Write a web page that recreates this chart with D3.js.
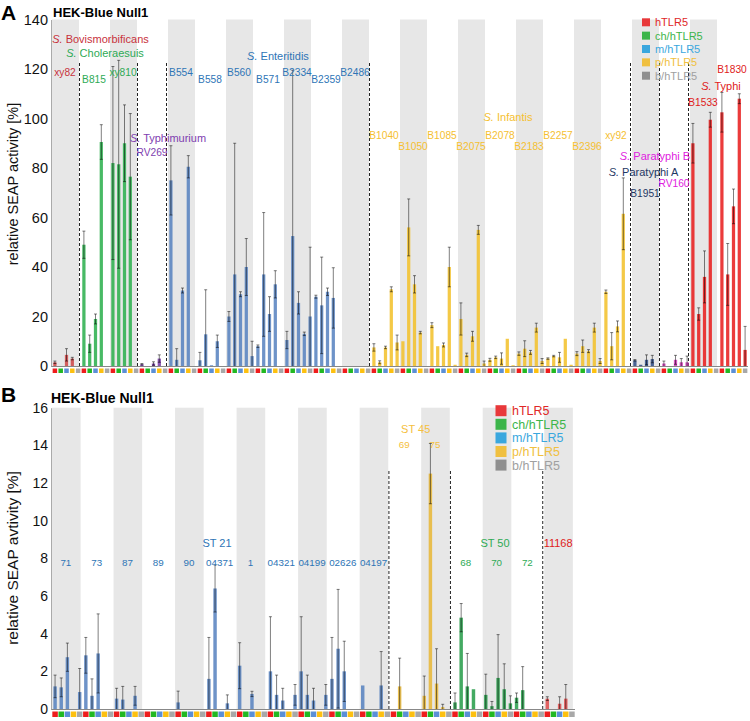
<!DOCTYPE html>
<html><head><meta charset="utf-8">
<script src="https://cdn.jsdelivr.net/npm/d3@7"></script>
<style>body{margin:0;background:#fff;} text{font-family:"Liberation Sans",Arial,sans-serif;}</style>
</head><body><svg id="c" width="750" height="721"></svg>
<script>
// ---------------- DATA ----------------
const receptors = ["hTLR5","ch/hTLR5","m/hTLR5","p/hTLR5","b/hTLR5"];
const ticksA = [0,20,40,60,80,100,120,140];
const ticksB = [0,2,4,6,8,10,12,14,16];

const serovarNamesA = ["Bovismorbificans","Choleraesuis","Typhimurium","Enteritidis","Infantis","Paratyphi A","Paratyphi B","Typhi"];
const serovarSizesA = [1,2,1,7,9,1,1,2];
const strainsA = ["xy82","B815","xy810","RV269","B554","B558","B560","B571","B2334","B2359","B2486",
  "B1040","B1050","B1085","B2075","B2078","B2183","B2257","B2396","xy92","B1951","RV160","B1533","B1830"];
// mean per strain: [hTLR5, ch/hTLR5, m/hTLR5, p/hTLR5, b/hTLR5]
const meanA = [
  [1.5,0,4.5,3,0],[49,9,19,90.5,0],[82,81.5,90,76.5,0],[0.7,0,1,3,0],
  [75,2.5,30.5,80.5,0],[2.3,12.8,0.3,10,0],[20,37,29,40,4],[8,37,21,33,0],
  [10.5,52.5,25.5,13,20],[28,24.5,30,27.5,0],[0,0,0,0,0],
  [7.5,1.5,7.5,31,9.5],[10,56,33,13.5,0],[16.5,8,8.5,40,0.5],[19,4.5,12,55,1],
  [2.5,3.5,3,11,0.3],[5,7,5.5,15.5,2],[3,4,3.5,11,0.5],[5,8,6,15.5,2],[30,8,16,61.5,0],
  [2.3,0.5,2.5,2.8,0],[1,0,2.5,1.5,1.5],[90,21,36,99.5,0],[102.5,37,64.5,108,6.5]
];
const errA = [
  [0.5,0,2.5,0.5,0],[5.5,3.5,2,7,0],[39,42,15.5,25.5,0],[0.3,0,0.7,1.5,0],
  [14,4.5,1,4.5,0],[3.2,18,0,2.5,0],[2,53,1,11.5,6],[0.5,25,7,5.5,0],
  [3.5,67,4.5,0.7,28],[0.6,19.5,1.5,12.2,0],[0,0,0,0,0],
  [1.5,0.6,0.5,1,3],[0,11.5,3.5,0.5,0],[1,0,0.8,8,0],[6.5,0.7,2,1.8,1],
  [0.6,0.5,2.3,0,0],[0.7,3.2,0.8,1.8,1],[0.3,0.3,2,0,0],[0.8,2.5,0.6,1.8,1],[0.7,5.5,2.2,14.5,0],
  [0.3,0,2,1.5,0],[1,0,1.8,1.5,2.5],[8,2.5,10.5,3,0],[8,12.5,7,2,9.5]
];

const groupNamesB = ["ST 21","ST 45","ST 50",""];
const groupSizesB = [11,2,3,1];
const strainsB = ["71","73","87","89","90","04371","1","04321","04199","02626","04197","69","75","68","70","72","11168"];
const meanB = [
  [1.2,1.15,2.75,0,0.9],[2.85,0.7,2.95,0,0],[0.55,0.5,0,0.7,0],[0,0,0,0,0],[0.35,0,0,0,0],
  [1.6,6.4,0,0.3,0],[2.3,0,0.8,0,0],[2.0,0.75,0.45,0,0.75],[2.0,0.75,0.45,0,0.75],[1.6,3.2,2.0,0,0],
  [1.25,0,0,1.25,0],[0,1.2,0,0,0],[0.7,12.5,1.35,0.1,0],[0.35,4.85,1.2,1.05,0],[0.75,0.15,1.65,1.05,0.3],
  [0.6,1.0,0,0,0],[0.55,0,0.28,0.55,0]
];
const errB = [
  [0.6,0.5,0.75,0,1.25],[0.95,0.9,2.1,0,0],[0.55,0.7,0,0.5,0],[0,0,0,0,0],[0.6,0,0,0,0],
  [2.2,1.25,0,0.45,0],[1.22,0,0.14,0,0],[2.9,1.05,0.65,0,0.55],[2.9,1.05,0.65,0,0.55],[2.2,3.15,1.6,0,0],
  [0,0,0,1.8,0],[0,1.5,0,0,0],[1.05,1.6,1.85,0.15,0],[0.5,0.75,1.75,0,0],[1.1,0.25,2.3,1.35,0.4],
  [0.25,1.25,0,0,0],[0.1,0,0.37,0.75,0]
];

// ---------------- STYLE / LAYOUT ----------------
const legendColors = ["#e8383a","#3cb54a","#3aa7de","#f0c040","#8f8f8f"];
const legendTextColors = ["#e02828","#3cb54a","#3aa7de","#f0c040","#a0a0a0"];
const rowColors = ["#ee1c1c","#22b822","#5b8fd6","#fdc010","#a8a8a8"];

const layoutA = {
  x0:52, x1:748, yTop:19.5, yBottom:366, ymax:140, ticks:ticksA, dashTop:63,
  barColors:["#cf4a4a","#2fb050","#7a3fa8","#5a84c0","#f2c12e","#34528a","#d03ab8","#e82020"],
  textColors:["#c8323c","#2eaa55","#8040b0","#2e75b6","#f5c030","#1f3864","#e020e0","#e02020"],
  nameXY:[[100.5,38.7],[105,52.7],[168,138.3],[278,56],[508,117.3],[643.5,171.7],[655,156],[721,85.7]],
  strainLabelY:[71.7,79.3,71.7,152.3,72,79.3,72,79.3,72,79.3,72,135,145.7,135,145.7,135,145.7,135,145.7,135,192.7,182.7,101.7,69],
  italicS:true, labelFont:11, strainFont:10.2, sq:4.5, tickFont:14.5,
  letter:"A", letterY:20, title:"HEK-Blue Null1", titleY:17, titleX:53, titleFont:13,
  ylabel:"relative SEAP activity [%]", ylabelY:184, ylabelFont:14.5,
  legend:{x:642, y:22.3, step:13.35, size:8, font:11, tx:655}
};
const layoutB = {
  x0:52, x1:575, yTop:407.7, yBottom:709, ymax:16, ticks:ticksB, dashTop:471,
  barColors:["#5a84c0","#e8b83a","#2a9e4c","#e05050"],
  textColors:["#2e75b6","#f5c040","#2eaa55","#e02020"],
  nameXY:[[217,543.3],[415.7,429.3],[495,543.3],null],
  strainLabelY:[562.3,562.3,562.3,562.3,562.3,562.3,562.3,562.3,562.3,562.3,562.3,444,444,562.3,562.3,562.3,543.3],
  italicS:false, labelFont:11, strainFont:9.8, sq:5.5, tickFont:14,
  letter:"B", letterY:402, title:"HEK-Blue Null1", titleY:403, titleX:51, titleFont:14,
  ylabel:"relative SEAP avtivity [%]", ylabelY:558, ylabelFont:15.5,
  legend:{x:495.5, y:410.7, step:13.6, size:11, font:12.5, tx:512}
};

const svg = d3.select("#c");

function drawPanel(strains, mean, err, groupNames, groupSizes, L) {
  const g = svg.append("g");
  const n = strains.length;
  const xS = d3.scaleBand().domain(d3.range(n)).range([L.x0, L.x1]);
  const xR = d3.scaleBand().domain(d3.range(receptors.length)).range([0, xS.bandwidth()]);
  const y = d3.scaleLinear().domain([0, L.ymax]).range([L.yBottom, L.yTop]);
  const groupOf = [];
  const groupStart = [];
  let k = 0;
  groupSizes.forEach((s, gi) => { groupStart.push(k); for (let j = 0; j < s; j++) groupOf.push(gi); k += s; });

  // gray bands
  g.selectAll("rect.band").data(d3.range(n).filter(i => i % 2 === 0)).join("rect")
    .attr("x", i => xS(i)).attr("y", y(L.ymax))
    .attr("width", xS.bandwidth() * 0.93).attr("height", y(0) - y(L.ymax))
    .attr("fill", "#e7e7e7");

  // dashed separators between groups
  g.selectAll("line.sep").data(groupStart.slice(1)).join("line")
    .attr("x1", i => xS(i) - 1.5).attr("x2", i => xS(i) - 1.5)
    .attr("y1", L.dashTop).attr("y2", y(0))
    .attr("stroke", "#222").attr("stroke-width", 1).attr("stroke-dasharray", "3,2");

  // bars
  const bars = [];
  strains.forEach((s, i) => receptors.forEach((r, j) => bars.push({i, j, m: mean[i][j], e: err[i][j]})));
  const bw = xR.bandwidth() * 0.56;
  g.selectAll("rect.bar").data(bars.filter(d => d.m > 0)).join("rect")
    .attr("x", d => xS(d.i) + xR(d.j) + (xR.bandwidth() - bw) / 2)
    .attr("y", d => y(d.m)).attr("width", bw).attr("height", d => y(0) - y(d.m))
    .attr("fill", d => L.barColors[groupOf[d.i]]).attr("fill-opacity", 0.88);

  // error bars
  const eb = bars.filter(d => d.e > 0);
  const cx = d => xS(d.i) + xR(d.j) + xR.bandwidth() / 2;
  g.selectAll("line.err").data(eb).join("line")
    .attr("x1", cx).attr("x2", cx)
    .attr("y1", d => y(Math.max(0, d.m - d.e))).attr("y2", d => y(d.m + d.e))
    .attr("stroke", "#000").attr("stroke-opacity", 0.5).attr("stroke-width", 1);
  g.selectAll("line.capT").data(eb).join("line")
    .attr("x1", d => cx(d) - 1.5).attr("x2", d => cx(d) + 1.5)
    .attr("y1", d => y(d.m + d.e)).attr("y2", d => y(d.m + d.e))
    .attr("stroke", "#000").attr("stroke-opacity", 0.5).attr("stroke-width", 1);
  g.selectAll("line.capB").data(eb.filter(d => d.m - d.e > 0)).join("line")
    .attr("x1", d => cx(d) - 1.5).attr("x2", d => cx(d) + 1.5)
    .attr("y1", d => y(d.m - d.e)).attr("y2", d => y(d.m - d.e))
    .attr("stroke", "#000").attr("stroke-opacity", 0.5).attr("stroke-width", 1);

  // x axis line
  g.append("line").attr("x1", L.x0 - 1).attr("x2", L.x1).attr("y1", y(0) + 0.5).attr("y2", y(0) + 0.5)
    .attr("stroke", "#888").attr("stroke-width", 1);
  // receptor squares under axis
  g.selectAll("rect.sq").data(bars).join("rect")
    .attr("x", d => cx(d) - L.sq / 2).attr("y", y(0) + 2.5)
    .attr("width", L.sq).attr("height", L.sq)
    .attr("fill", d => rowColors[d.j]);

  // y axis
  const ax = g.append("g").attr("transform", `translate(${L.x0 - 1},0)`)
    .call(d3.axisLeft(y).tickValues(L.ticks).tickSize(0).tickPadding(3));
  ax.select(".domain").attr("stroke", "#aaa");
  ax.selectAll("text").attr("font-size", L.tickFont).attr("fill", "#111")
    .attr("font-family", '"Liberation Sans",Arial,sans-serif');

  // y label
  svg.append("text").attr("transform", `translate(18,${L.ylabelY}) rotate(-90)`)
    .attr("text-anchor", "middle").attr("font-size", L.ylabelFont).attr("fill", "#111").text(L.ylabel);

  // letter + title
  svg.append("text").attr("x", 1).attr("y", L.letterY).attr("font-size", 21).attr("font-weight", "bold").text(L.letter);
  svg.append("text").attr("x", L.titleX).attr("y", L.titleY).attr("font-size", L.titleFont).attr("font-weight", "bold").text(L.title);

  // group names
  groupNames.forEach((name, gi) => {
    if (!name || !L.nameXY[gi]) return;
    const t = svg.append("text").attr("x", L.nameXY[gi][0]).attr("y", L.nameXY[gi][1] + 4)
      .attr("text-anchor", "middle").attr("font-size", L.labelFont).attr("fill", L.textColors[gi]);
    if (L.italicS) {
      t.append("tspan").attr("font-style", "italic").text("S.");
      t.append("tspan").text(" " + name);
    } else t.text(name);
  });
  // strain labels
  svg.selectAll(null).data(strains).join("text")
    .attr("x", (s, i) => xS(i) + xS.bandwidth() / 2 - 1.5)
    .attr("y", (s, i) => L.strainLabelY[i] + 4)
    .attr("text-anchor", "middle")
    .attr("font-size", (s, i) => (groupNames[groupOf[i]] === "" ? L.labelFont : L.strainFont))
    .attr("fill", (s, i) => L.textColors[groupOf[i]]).text(s => s);

  // legend
  const lg = svg.append("g");
  receptors.forEach((r, j) => {
    const cy = L.legend.y + j * L.legend.step;
    lg.append("rect").attr("x", L.legend.x).attr("y", cy - L.legend.size / 2)
      .attr("width", L.legend.size).attr("height", L.legend.size).attr("fill", legendColors[j]);
    lg.append("text").attr("x", L.legend.tx).attr("y", cy + L.legend.font * 0.36)
      .attr("font-size", L.legend.font).attr("fill", legendTextColors[j]).text(r);
  });
}

drawPanel(strainsA, meanA, errA, serovarNamesA, serovarSizesA, layoutA);
drawPanel(strainsB, meanB, errB, groupNamesB, groupSizesB, layoutB);
</script></body></html>
